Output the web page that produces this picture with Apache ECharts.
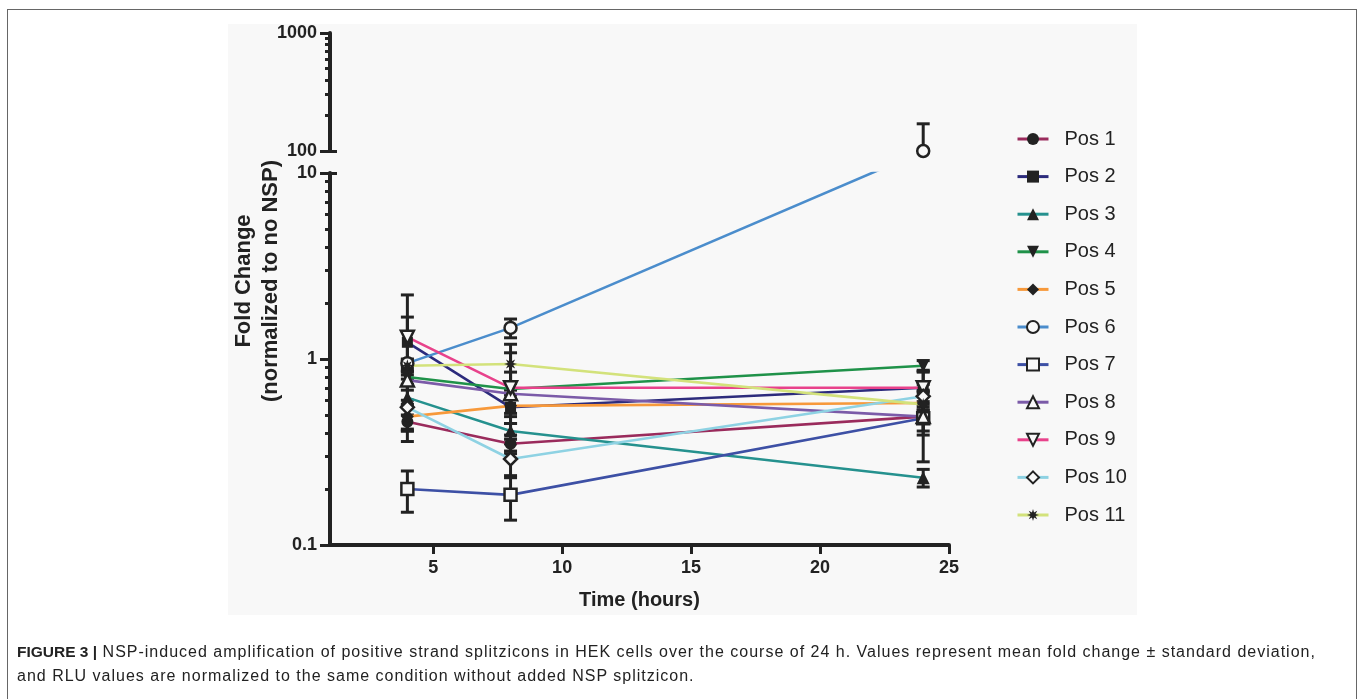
<!DOCTYPE html>
<html>
<head>
<meta charset="utf-8">
<script src="https://cdn.jsdelivr.net/npm/echarts@6/dist/echarts.min.js"></script>
<style>
html,body{margin:0;padding:0;background:#fff;overflow:hidden;}
#frame{position:absolute;left:7px;top:9px;width:1350px;height:720px;border:1px solid #666;box-sizing:border-box;}
#panel{position:absolute;left:228px;top:24px;width:909px;height:591px;background:#f8f8f8;}
#chart{position:absolute;left:0;top:0;width:1360px;height:699px;}
#caption{position:absolute;left:17px;top:640px;width:1335px;font-family:"Liberation Sans",Arial,Helvetica,sans-serif;font-size:16px;letter-spacing:1px;line-height:24px;color:#222;white-space:nowrap;}
#caption b{font-weight:bold;font-size:15.5px;letter-spacing:0;}
</style>
</head>
<body>
<div id="frame"></div>
<div id="panel"></div>
<div id="chart"></div>
<div id="caption"><b>FIGURE 3 |</b> NSP-induced amplification of positive strand splitzicons in HEK cells over the course of 24 h. Values represent mean fold change ± standard deviation,<br>and RLU values are normalized to the same condition without added NSP splitzicon.</div>
<script>
// ---------------- data ----------------
const hours = [4, 8, 24];
const seriesNames = ['Pos 1','Pos 2','Pos 3','Pos 4','Pos 5','Pos 6','Pos 7','Pos 8','Pos 9','Pos 10','Pos 11'];
const pos1Mean = [0.46, 0.35, 0.49];   const pos1Sd = [0.10, 0.04, 0.10];
const pos2Mean = [1.23, 0.55, 0.70];   const pos2Sd = [0.45, 0.06, 0.17];
const pos3Mean = [0.62, 0.41, 0.23];   const pos3Sd = [0.20, 0.04, 0.025];
const pos4Mean = [0.80, 0.69, 0.92];   const pos4Sd = [0.07, 0.05, 0.06];
const pos5Mean = [0.49, 0.56, 0.58];   const pos5Sd = [0.08, 0.05, 0.08];
const pos6Mean = [0.95, 1.47, 100];    const pos6Sd = [0.05, 0.17, 70];
const pos7Mean = [0.20, 0.186, 0.48];  const pos7Sd = [0.05, 0.05, 0.20];
const pos8Mean = [0.77, 0.65, 0.49];   const pos8Sd = [0.09, 0.20, 0.08];
const pos9Mean = [1.31, 0.70, 0.70];   const pos9Sd = [0.90, 0.38, 0.15];
const pos10Mean = [0.55, 0.29, 0.63];  const pos10Sd = [0.05, 0.06, 0.10];
const pos11Mean = [0.92, 0.94, 0.57];  const pos11Sd = [0.07, 0.26, 0.10];
const xTicks = [5, 10, 15, 20, 25];
const lowerTicks = [0.1, 1, 10];
const lowerMinorTicks = [0.2,0.3,0.4,0.5,0.6,0.7,0.8,0.9,2,3,4,5,6,7,8,9];
const upperTicks = [100, 1000];
const upperMinorTicks = [200,300,400,500,600,700,800,900];
const lowerRange = [0.1, 10];
const upperRange = [100, 1000];
const xRange = [1, 25];

const means = [pos1Mean,pos2Mean,pos3Mean,pos4Mean,pos5Mean,pos6Mean,pos7Mean,pos8Mean,pos9Mean,pos10Mean,pos11Mean];
const sds = [pos1Sd,pos2Sd,pos3Sd,pos4Sd,pos5Sd,pos6Sd,pos7Sd,pos8Sd,pos9Sd,pos10Sd,pos11Sd];

// ---------------- styles ----------------
const FONT = '"Liberation Sans", Arial, Helvetica, sans-serif';
const INK = '#222';
const BG = '#f8f8f8';
const lineColors = ['#9a2b5c','#2c2b7c','#25918e','#1f9249','#f7993b','#4b8dcc','#3d50a5','#7b5ba8','#e8428b','#8ed2e3','#d3e27b'];
const markers = [
  {symbol:'circle', size:12, open:false},
  {symbol:'rect', size:11, open:false},
  {symbol:'triangle', size:13, open:false},
  {symbol:'triangle', size:13, open:false, rotate:180},
  {symbol:'diamond', size:13, open:false},
  {symbol:'circle', size:12, open:true},
  {symbol:'rect', size:12, open:true},
  {symbol:'triangle', size:13, open:true},
  {symbol:'triangle', size:13, open:true, rotate:180},
  {symbol:'diamond', size:13, open:true},
  {symbol:'path://M10,0 L11.72,5.84 L17.07,2.93 L14.16,8.28 L20,10 L14.16,11.72 L17.07,17.07 L11.72,14.16 L10,20 L8.28,14.16 L2.93,17.07 L5.84,11.72 L0,10 L5.84,8.28 L2.93,2.93 L8.28,5.84 Z', size:13, open:false}
];

const chart = echarts.init(document.getElementById('chart'), null, {renderer:'canvas'});

function markerItemStyle(m) {
  return m.open ? {color: BG, borderColor: INK, borderWidth: 2.5} : {color: INK, borderColor: INK, borderWidth: 0};
}

function errorRows(inUpper) {
  const rows = [];
  means.forEach((mean, i) => {
    mean.forEach((v, j) => {
      const up = v > lowerRange[1];
      if (up === inUpper) rows.push([hours[j], v - sds[i][j], v + sds[i][j]]);
    });
  });
  return rows;
}

function errorSeries(gridIdx, yIdx, rows) {
  return {
    type: 'custom', xAxisIndex: gridIdx, yAxisIndex: yIdx, z: 1, silent: true,
    data: rows,
    encode: {x: 0, y: [1, 2]},
    renderItem: function (params, api) {
      const cs = params.coordSys;
      const x = api.coord([api.value(0), api.value(1)])[0];
      const yLo = api.coord([api.value(0), api.value(1)])[1];
      const yHi = api.coord([api.value(0), api.value(2)])[1];
      const top = cs.y, bottom = cs.y + cs.height;
      const st = {stroke: INK, lineWidth: 3, fill: null};
      const clampY = y => Math.max(top, Math.min(bottom, y));
      const ch = [{type:'line', shape:{x1:x, y1:clampY(yHi), x2:x, y2:clampY(yLo)}, style: st}];
      const hw = 6.5;
      if (yHi >= top - 0.5 && yHi <= bottom + 0.5) ch.push({type:'line', shape:{x1:x-hw, y1:yHi, x2:x+hw, y2:yHi}, style: st});
      if (yLo >= top - 0.5 && yLo <= bottom + 0.5) ch.push({type:'line', shape:{x1:x-hw, y1:yLo, x2:x+hw, y2:yLo}, style: st});
      return {type:'group', children: ch};
    }
  };
}

function buildSeries(extFn) {
  const out = [];
  means.forEach((mean, i) => {
    const m = markers[i];
    const data = hours.map((h, j) => {
      if (mean[j] <= lowerRange[1]) return [h, mean[j]];
      return extFn ? {value:[h, extFn(mean[j])], symbol:'none'} : [h, null];
    });
    out.push({
      id: 'low' + i, name: seriesNames[i], type: 'line', xAxisIndex: 0, yAxisIndex: 0,
      data: data, clip: true, z: 3,
      symbol: m.symbol, symbolSize: m.size, symbolRotate: m.rotate || 0,
      itemStyle: markerItemStyle(m),
      lineStyle: {color: lineColors[i], width: 2.6},
      emphasis: {disabled: true}, animation: false
    });
  });
  // points above the axis break
  means.forEach((mean, i) => {
    const m = markers[i];
    const data = hours.map((h, j) => mean[j] > lowerRange[1] ? [h, mean[j]] : null).filter(d => d);
    if (!data.length) return;
    out.push({
      id: 'up' + i, name: seriesNames[i] + ' (upper)', type: 'line', xAxisIndex: 1, yAxisIndex: 2,
      data: data, clip: true, z: 3,
      symbol: m.symbol, symbolSize: m.size, symbolRotate: m.rotate || 0,
      itemStyle: markerItemStyle(m),
      lineStyle: {color: lineColors[i], width: 2.6},
      emphasis: {disabled: true}, animation: false
    });
  });
  out.push(Object.assign({id:'errLow'}, errorSeries(0, 0, errorRows(false))));
  out.push(Object.assign({id:'errUp'}, errorSeries(1, 2, errorRows(true))));
  return out;
}

const labelStyle = {fontFamily: FONT, fontWeight: 'bold', fontSize: 18, color: INK};
const axisLineStyle = {show: true, lineStyle: {color: INK, width: 4}};
const plainNum = v => String(v);

function tickOnlyAxis(gridIdx, range, values, len, inside) {
  return {type:'log', logBase:10, gridIndex:gridIdx, position:'left', offset:0, min:range[0], max:range[1],
    axisLine: {show:false},
    axisTick: {show:true, inside: !!inside, length:len, lineStyle:{color:INK, width:3}, customValues: values},
    axisLabel: {show:false}, splitLine: {show:false}};
}

const option = {
  animation: false,
  grid: [
    {left: 330, top: 173, width: 619, height: 372, containLabel: false},
    {left: 330, top: 33, width: 619, height: 118, containLabel: false}
  ],
  xAxis: [
    {type:'value', gridIndex:0, min:xRange[0], max:xRange[1],
     axisLine: axisLineStyle,
     axisTick: {show:true, length:9, lineStyle:{color:INK, width:3}, customValues: xTicks},
     axisLabel: Object.assign({margin: 14, customValues: xTicks, formatter: plainNum}, labelStyle),
     splitLine: {show:false},
     name: 'Time (hours)', nameLocation: 'middle', nameGap: 45,
     nameTextStyle: {fontFamily: FONT, fontWeight:'bold', fontSize: 20, color: INK}},
    {type:'value', gridIndex:1, min:xRange[0], max:xRange[1], show:false}
  ],
  yAxis: [
    {type:'log', logBase:10, gridIndex:0, position:'left', min:lowerRange[0], max:lowerRange[1],
     axisLine: axisLineStyle,
     axisTick: {show:true, length:10, lineStyle:{color:INK, width:3}, customValues: lowerTicks},
     axisLabel: Object.assign({margin: 13, customValues: lowerTicks, formatter: plainNum}, labelStyle),
     splitLine: {show:false}},
    tickOnlyAxis(0, lowerRange, lowerMinorTicks, 5, false),
    {type:'log', logBase:10, gridIndex:1, position:'left', min:upperRange[0], max:upperRange[1],
     axisLine: axisLineStyle,
     axisTick: {show:true, length:10, lineStyle:{color:INK, width:3}, customValues: upperTicks},
     axisLabel: Object.assign({margin: 13, customValues: upperTicks, formatter: plainNum}, labelStyle),
     splitLine: {show:false}},
    tickOnlyAxis(1, upperRange, upperMinorTicks, 5, false),
    // short inward caps at the ends of the axis break
    tickOnlyAxis(0, lowerRange, [lowerRange[1]], 7, true),
    tickOnlyAxis(1, upperRange, [upperRange[0]], 7, true)
  ],
  legend: {
    data: seriesNames, orient: 'vertical', left: 1016, top: 129, padding: 0,
    itemWidth: 31, itemHeight: 15, itemGap: 17.6,
    lineStyle: {width: 3},
    textStyle: {fontFamily: FONT, fontSize: 20, color: INK, lineHeight: 20, padding: [0,0,0,11]}
  },
  graphic: [
    {type:'text', x: 257, y: 281, rotation: Math.PI/2, silent: true,
     style: {text: 'Fold Change\n(normalized to no NSP)', font: 'bold 22px ' + FONT, fill: INK,
             align: 'center', verticalAlign: 'middle', lineHeight: 27}}
  ],
  series: buildSeries(null)
};

chart.setOption(option);
// connect points across the axis break in screen space (as the original plot does)
const ext = v => chart.convertFromPixel({yAxisIndex: 0}, chart.convertToPixel({yAxisIndex: 2}, v));
chart.setOption({series: buildSeries(ext)});
</script>
</body>
</html>
